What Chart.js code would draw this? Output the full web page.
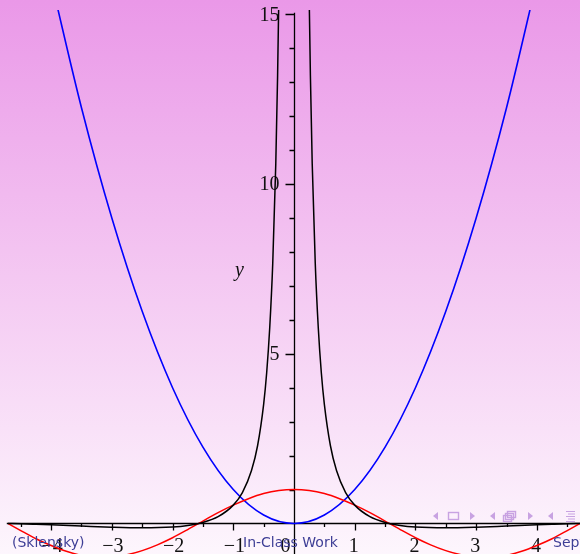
<!DOCTYPE html>
<html>
<head>
<meta charset="utf-8">
<script src="https://cdn.jsdelivr.net/npm/chart.js@4.4.1/dist/chart.umd.min.js"></script>
<style>
    html, body {
        margin: 0;
        padding: 0;
        width: 580px;
        height: 554px;
        overflow: hidden;
    }
    body {
        background: linear-gradient(to bottom, rgb(234, 152, 232) 0%, rgb(244, 200, 242) 50%, rgb(253, 246, 253) 100%);
    }
    #plot {
        display: block;
    }
</style>
</head>
<body>
<canvas id="plot" width="580" height="554"></canvas>
<script>
// values
const blueX = [-4, -3.5, -3, -2.5, -2, -1.5, -1, -0.5, 0, 0.5, 1, 1.5, 2, 2.5, 3, 3.5, 4];
const blueY = [16, 12.25, 9, 6.25, 4, 2.25, 1, 0.25, 0, 0.25, 1, 2.25, 4, 6.25, 9, 12.25, 16];

const redX = [-4.71, -4.5, -4.25, -4, -3.75, -3.5, -3.25, -3, -2.75, -2.5, -2.25, -2, -1.75, -1.5, -1.25, -1, -0.75, -0.5, -0.25, 0,
    0.25, 0.5, 0.75, 1, 1.25, 1.5, 1.75, 2, 2.25, 2.5, 2.75, 3, 3.25, 3.5, 3.75, 4, 4.25, 4.5, 4.71];
const redY = [0, -0.21, -0.45, -0.65, -0.82, -0.94, -0.99, -0.99, -0.92, -0.8, -0.63, -0.42, -0.18, 0.07, 0.32, 0.54, 0.73, 0.88, 0.97, 1,
    0.97, 0.88, 0.73, 0.54, 0.32, 0.07, -0.18, -0.42, -0.63, -0.8, -0.92, -0.99, -0.99, -0.94, -0.82, -0.65, -0.45, -0.21, 0];

const blackX = [-4.71, -4.5, -4.25, -4, -3.5, -3, -2.5, -2, -1.75, -1.5, -1.25, -1, -0.85, -0.7, -0.6, -0.5, -0.45, -0.4, -0.35, -0.3, -0.27, -0.25, -0.22,
    0,
    0.22, 0.25, 0.27, 0.3, 0.35, 0.4, 0.45, 0.5, 0.6, 0.7, 0.85, 1, 1.25, 1.5, 1.75, 2, 2.5, 3, 3.5, 4, 4.25, 4.5, 4.71];
const blackY = [0, -0.01, -0.025, -0.041, -0.076, -0.11, -0.128, -0.104, -0.058, 0.031, 0.2, 0.54, 0.91, 1.56, 2.29, 3.51, 4.44, 5.76, 7.67, 10.6, 13.2, 15.5, 20.2,
    null,
    20.2, 15.5, 13.2, 10.6, 7.67, 5.76, 4.44, 3.51, 2.29, 1.56, 0.91, 0.54, 0.2, 0.031, -0.058, -0.104, -0.128, -0.11, -0.076, -0.041, -0.025, -0.01, 0];

const xTickValues = [-4, -3, -2, -1, 1, 2, 3, 4];
const xTickLabels = ['\u22124', '\u22123', '\u22122', '\u22121', '1', '2', '3', '4'];
const yTickValues = [5, 10, 15];
const yTickLabels = ['5', '10', '15'];

function toPoints(xs, ys) {
    return xs.map(function(x, i) {
        return { x: x, y: ys[i] };
    });
}

const mapleAxes = {
    id: 'mapleAxes',
    beforeDatasetsDraw: function(chart) {
        const ctx = chart.ctx;
        const sx = chart.scales.x;
        const sy = chart.scales.y;
        const x0 = Math.round(sx.getPixelForValue(0)) + 0.5;
        const y0 = Math.round(sy.getPixelForValue(0)) + 0.5;

        ctx.save();
        ctx.strokeStyle = '#000';
        ctx.lineWidth = 1.3;

        // horizontal axis with ticks below it
        ctx.beginPath();
        ctx.moveTo(sx.getPixelForValue(-4.73), y0);
        ctx.lineTo(sx.getPixelForValue(4.75), y0);
        for (let v = -4.5; v <= 4.5; v += 0.5) {
            if (v === 0) continue;
            const px = Math.round(sx.getPixelForValue(v)) + 0.5;
            ctx.moveTo(px, y0);
            ctx.lineTo(px, y0 + (Number.isInteger(v) ? 7 : 3.5));
        }

        // vertical axis with ticks on the left
        ctx.moveTo(x0, sy.getPixelForValue(15.05));
        ctx.lineTo(x0, sy.getPixelForValue(-1));
        for (let v = 1; v <= 15; v++) {
            const py = Math.round(sy.getPixelForValue(v)) + 0.5;
            ctx.moveTo(x0, py);
            ctx.lineTo(x0 - (v % 5 === 0 ? 9 : 5), py);
        }
        ctx.stroke();

        ctx.fillStyle = '#111';
        ctx.font = '20px "Liberation Serif", "DejaVu Serif", serif';
        ctx.textAlign = 'center';
        ctx.textBaseline = 'alphabetic';
        xTickValues.forEach(function(v, i) {
            const px = sx.getPixelForValue(v) + (v < 0 ? 1 : -1);
            ctx.fillText(xTickLabels[i], px, y0 + 28);
        });
        ctx.textAlign = 'right';
        ctx.fillText('0', x0 - 4, y0 + 28);

        ctx.textBaseline = 'middle';
        yTickValues.forEach(function(v, i) {
            ctx.fillText(yTickLabels[i], x0 - 15, sy.getPixelForValue(v) + 1);
        });

        ctx.font = 'italic 20px "Liberation Serif", "DejaVu Serif", serif';
        ctx.textAlign = 'center';
        ctx.fillText('y', x0 - 55, sy.getPixelForValue(7.45));
        ctx.restore();
    }
};

const slideFooter = {
    id: 'slideFooter',
    afterDraw: function(chart) {
        const ctx = chart.ctx;
        ctx.save();

        // beamer navigation symbols
        ctx.fillStyle = 'rgb(200, 162, 226)';
        ctx.strokeStyle = 'rgb(200, 162, 226)';
        ctx.lineWidth = 1.4;
        function tri(x, y, dir) {
            ctx.beginPath();
            ctx.moveTo(x + (dir < 0 ? 0 : 5), y);
            ctx.lineTo(x + (dir < 0 ? 5 : 0), y - 4);
            ctx.lineTo(x + (dir < 0 ? 5 : 0), y + 4);
            ctx.closePath();
            ctx.fill();
        }
        tri(433, 516, -1);
        ctx.strokeRect(448.5, 512.5, 10, 7);
        tri(470, 516, 1);
        tri(490, 516, -1);
        ctx.strokeRect(507.5, 511.5, 8, 6);
        ctx.strokeRect(505.5, 513.5, 8, 6);
        ctx.strokeRect(503.5, 515.5, 8, 6);
        tri(528, 516, 1);
        tri(548, 516, -1);
        ctx.beginPath();
        for (let i = 0; i < 5; i++) {
            const y = 511.5 + i * 2.5;
            ctx.moveTo(566 + (i % 2 ? 2 : 0), y);
            ctx.lineTo(575, y);
        }
        ctx.lineWidth = 1;
        ctx.stroke();

        ctx.fillStyle = 'rgb(62, 62, 150)';
        ctx.font = '14px "DejaVu Sans", sans-serif';
        ctx.textBaseline = 'alphabetic';
        ctx.textAlign = 'left';
        ctx.fillText('(Sklensky)', 12, 547);
        ctx.fillText('In-Class Work', 243, 547);
        ctx.fillText('Sept', 553, 547);
        ctx.restore();
    }
};

new Chart(document.getElementById('plot'), {
    type: 'line',
    data: {
        datasets: [{
            label: 'black',
            data: toPoints(blackX, blackY),
            borderColor: '#000000',
            borderWidth: 1.5,
            spanGaps: false
        }, {
            label: 'red',
            data: toPoints(redX, redY),
            borderColor: '#ff0000',
            borderWidth: 1.5
        }, {
            label: 'blue',
            data: toPoints(blueX, blueY),
            borderColor: '#0000ff',
            borderWidth: 1.6
        }]
    },
    options: {
        responsive: false,
        animation: false,
        devicePixelRatio: 1,
        layout: {
            padding: { left: 8, right: 0, top: 10, bottom: 0 }
        },
        elements: {
            point: { radius: 0 },
            line: { cubicInterpolationMode: 'monotone', fill: false }
        },
        plugins: {
            legend: { display: false },
            tooltip: { enabled: false }
        },
        scales: {
            x: {
                type: 'linear',
                display: false,
                min: -4.71,
                max: 4.71
            },
            y: {
                type: 'linear',
                display: false,
                min: -0.9,
                max: 15.13
            }
        }
    },
    plugins: [mapleAxes, slideFooter]
});
</script>
</body>
</html>
